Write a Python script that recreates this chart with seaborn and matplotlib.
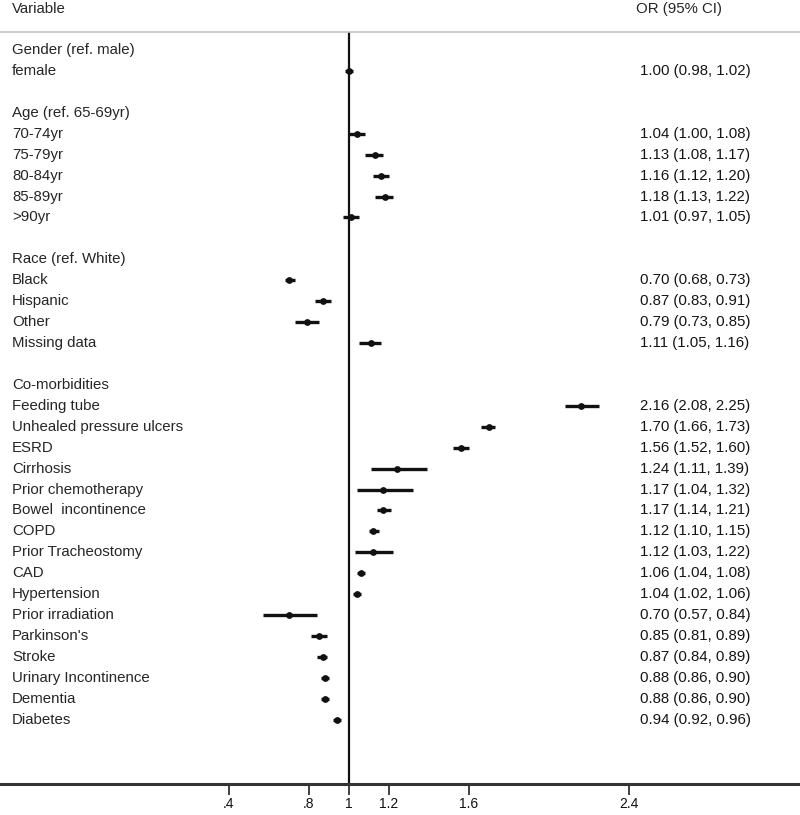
import matplotlib
matplotlib.use("Agg")
import matplotlib.pyplot as plt
import seaborn as sns
import pandas as pd
import numpy as np

# ---- data ----
groups = ["Gender (ref. male)", "Age (ref. 65-69yr)", "Race (ref. White)", "Co-morbidities"]
variables = [
    "female",
    "70-74yr", "75-79yr", "80-84yr", "85-89yr", ">90yr",
    "Black", "Hispanic", "Other", "Missing data",
    "Feeding tube", "Unhealed pressure ulcers", "ESRD", "Cirrhosis",
    "Prior chemotherapy", "Bowel  incontinence", "COPD", "Prior Tracheostomy",
    "CAD", "Hypertension", "Prior irradiation", "Parkinson's", "Stroke",
    "Urinary Incontinence", "Dementia", "Diabetes",
]
group_of = [0] + [1] * 5 + [2] * 4 + [3] * 16
or_vals = [1.00, 1.04, 1.13, 1.16, 1.18, 1.01, 0.70, 0.87, 0.79, 1.11,
           2.16, 1.70, 1.56, 1.24, 1.17, 1.17, 1.12, 1.12, 1.06, 1.04,
           0.70, 0.85, 0.87, 0.88, 0.88, 0.94]
ci_lo = [0.98, 1.00, 1.08, 1.12, 1.13, 0.97, 0.68, 0.83, 0.73, 1.05,
         2.08, 1.66, 1.52, 1.11, 1.04, 1.14, 1.10, 1.03, 1.04, 1.02,
         0.57, 0.81, 0.84, 0.86, 0.86, 0.92]
ci_hi = [1.02, 1.08, 1.17, 1.20, 1.22, 1.05, 0.73, 0.91, 0.85, 1.16,
         2.25, 1.73, 1.60, 1.39, 1.32, 1.21, 1.15, 1.22, 1.08, 1.06,
         0.84, 0.89, 0.89, 0.90, 0.90, 0.96]
tick_vals = [0.4, 0.8, 1.0, 1.2, 1.6, 2.4]
tick_labels = [".4", ".8", "1", "1.2", "1.6", "2.4"]

# ---- row layout ----
header_rows = []
item_rows = []
r = 0
prev = None
for g in group_of:
    if g != prev:
        if prev is not None:
            r += 1  # blank row
        header_rows.append(r)
        r += 1
        prev = g
    item_rows.append(r)
    r += 1

df = pd.DataFrame({"row": item_rows, "OR": or_vals, "lo": ci_lo, "hi": ci_hi,
                   "label": variables})

sns.set_theme(style="white")
plt.rcParams["font.family"] = ["Liberation Sans", "DejaVu Sans"]

W, H = 800, 815
fig = plt.figure(figsize=(W / 100, H / 100), dpi=100)
ax_top_px, ax_bot_px = 32, 784
ax = fig.add_axes([0, (H - ax_bot_px) / H, 1, (ax_bot_px - ax_top_px) / H])

row_px = 20.93
first_px = 50
ax.set_ylim((ax_bot_px - first_px) / row_px, (ax_top_px - first_px) / row_px)
ax.set_xlim(1 - 348.5 / 200, 1 + 451.5 / 200)

# reference line at 1
ax.axvline(1.0, color="#111111", lw=1.6, zorder=1)

# CI lines
ax.hlines(df["row"], df["lo"], df["hi"], color="#111111", lw=2.4, zorder=2)
sns.scatterplot(data=df, x="OR", y="row", ax=ax, color="#111111", s=24,
                edgecolor="#111111", linewidth=0, zorder=3, legend=False)

# text columns
tr = ax.get_yaxis_transform()
fs = 10.8
tc = "#262626"
for hr, g in zip(header_rows, groups):
    ax.text(12 / W, hr, g, transform=tr, fontsize=fs, va="center", ha="left",
            color=tc)
for row, lab, o, lo, hi in zip(item_rows, variables, or_vals, ci_lo, ci_hi):
    ax.text(12 / W, row, lab, transform=tr, fontsize=fs, va="center", ha="left",
            color=tc)
    ax.text(640 / W, row, f"{o:.2f} ({lo:.2f}, {hi:.2f})", transform=tr,
            fontsize=fs, va="center", ha="left", color="#151515")

ytitle = (9 - first_px) / row_px
ax.text(12 / W, ytitle, "Variable", transform=tr, fontsize=fs, va="center",
        ha="left", color=tc, clip_on=False)
ax.text(636 / W, ytitle, "OR (95% CI)", transform=tr, fontsize=fs, va="center",
        ha="left", color=tc, clip_on=False)

# axes styling
for s in ["left", "right"]:
    ax.spines[s].set_visible(False)
ax.spines["top"].set_color("#c4c4c4")
ax.spines["top"].set_linewidth(1.2)
ax.spines["bottom"].set_color("#333333")
ax.spines["bottom"].set_linewidth(2.2)
ax.set_yticks([])
ax.set_xticks(tick_vals)
ax.set_xticklabels(tick_labels, fontsize=10)
ax.tick_params(axis="x", direction="out", length=8, width=1.3, color="#333333",
               pad=1.5, bottom=True, labelcolor="#111111")
ax.set_xlabel("")
ax.set_ylabel("")

fig.savefig("out.png", dpi=100)
